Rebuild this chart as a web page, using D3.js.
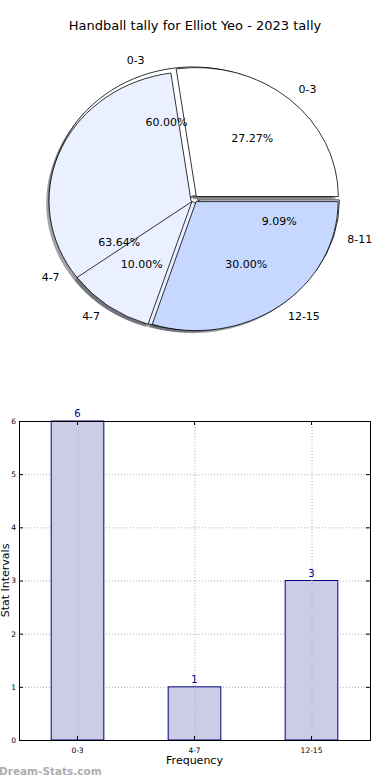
<!DOCTYPE html>
<html>
<head>
<meta charset="utf-8">
<script src="https://cdn.jsdelivr.net/npm/d3@7"></script>
<style>
  body { margin: 0; background: #fff; }
  svg { display: block; font-family: "DejaVu Sans", sans-serif; }
</style>
</head>
<body>
<div id="chart"></div>
<script>
// pie data (two pies drawn on the same axes)
const pie1Labels = ["0-3", "4-7", "8-11"];
const pie1Values = [3, 7, 1];
const pie2Labels = ["0-3", "4-7", "12-15"];
const pie2Values = [6, 1, 3];

// bar data
const barCategories = ["0-3", "4-7", "12-15"];
const barValues = [6, 1, 3];
const yTicks = [0, 1, 2, 3, 4, 5, 6];

const pie1Colors = ["#ffffff", "#eaf0ff", "#ffffff"];
const pie2Colors = ["#ffffff", "#eaf0ff", "#c6d8ff"];

const W = 390, H = 780;
const PIE = { cx: 194, cy: 199, rx: 142, ry: 129, explode: 0.025, shadow: 0.02 };
const BAR = { left: 19, right: 370, top: 421, bottom: 740 };

const svg = d3.select("#chart").append("svg")
    .attr("width", W)
    .attr("height", H);

svg.append("text")
    .attr("x", W / 2)
    .attr("y", 30)
    .attr("text-anchor", "middle")
    .attr("font-size", 13)
    .text("Handball tally for Elliot Yeo - 2023 tally");

// ---------- pie ----------
// matplotlib style: start at 3 o'clock, go counter clockwise
const pie = d3.pie().sort(null)
    .startAngle(Math.PI / 2)
    .endAngle(Math.PI / 2 - 2 * Math.PI);

const arc = d3.arc().innerRadius(0).outerRadius(1);

function buildWedges(labels, values, colors) {
    const total = d3.sum(values);
    return pie(values).map((d, i) => {
        const mid = (d.startAngle + d.endAngle) / 2;
        return {
            arc: d,
            label: labels[i],
            pct: (values[i] / total * 100).toFixed(2) + "%",
            color: colors[i],
            ox: PIE.explode * Math.sin(mid),
            oy: -PIE.explode * Math.cos(mid),
            sx: Math.sin(mid),
            sy: -Math.cos(mid)
        };
    });
}

const wedges1 = buildWedges(pie1Labels, pie1Values, pie1Colors);
const wedges2 = buildWedges(pie2Labels, pie2Values, pie2Colors);
// the big first wedge of the second pie ends up underneath the first pie
const drawOrder = [wedges2[0]].concat(wedges1, wedges2.slice(1));

const pieG = svg.append("g")
    .attr("transform", "translate(" + PIE.cx + "," + PIE.cy + ") scale(" + PIE.rx + "," + PIE.ry + ")");

// shadows first, under every wedge
pieG.selectAll("path.shadow")
    .data(drawOrder)
    .enter().append("path")
    .attr("class", "shadow")
    .attr("d", d => arc(d.arc))
    .attr("transform", d => "translate(" + (d.ox - PIE.shadow) + "," + (d.oy + PIE.shadow) + ")")
    .attr("fill", d => {
        const c = d3.rgb(d.color);
        return d3.rgb(c.r * 0.3, c.g * 0.3, c.b * 0.3);
    })
    .attr("fill-opacity", 0.5)
    .attr("stroke", "none");

pieG.selectAll("path.wedge")
    .data(drawOrder)
    .enter().append("path")
    .attr("class", "wedge")
    .attr("d", d => arc(d.arc))
    .attr("transform", d => "translate(" + d.ox + "," + d.oy + ")")
    .attr("fill", d => d.color)
    .attr("stroke", "#000")
    .attr("stroke-width", 0.8)
    .attr("vector-effect", "non-scaling-stroke");

const pieText = svg.append("g").attr("font-size", 11);

pieText.selectAll("text.cat")
    .data(drawOrder)
    .enter().append("text")
    .attr("x", d => PIE.cx + (d.ox + 1.1 * d.sx) * PIE.rx)
    .attr("y", d => PIE.cy + (d.oy + 1.1 * d.sy) * PIE.ry)
    .attr("text-anchor", d => d.sx > 0 ? "start" : "end")
    .attr("dominant-baseline", "central")
    .text(d => d.label);

pieText.selectAll("text.pct")
    .data(drawOrder)
    .enter().append("text")
    .attr("x", d => PIE.cx + (d.ox + 0.6 * d.sx) * PIE.rx)
    .attr("y", d => PIE.cy + (d.oy + 0.6 * d.sy) * PIE.ry)
    .attr("text-anchor", "middle")
    .attr("dominant-baseline", "central")
    .text(d => d.pct);

// ---------- bars ----------
const x = d3.scaleBand()
    .domain(barCategories)
    .range([BAR.left, BAR.right])
    .paddingInner(0.55)
    .paddingOuter(0.275);

const y = d3.scaleLinear()
    .domain([0, 6])
    .range([BAR.bottom, BAR.top]);

const grid = svg.append("g")
    .attr("stroke", "#b0b0b0")
    .attr("stroke-width", 1)
    .attr("stroke-dasharray", "1,2");

grid.selectAll("line.h")
    .data(yTicks.slice(1, -1))
    .enter().append("line")
    .attr("x1", BAR.left).attr("x2", BAR.right)
    .attr("y1", d => y(d) + 0.5).attr("y2", d => y(d) + 0.5);

svg.append("g").selectAll("rect")
    .data(barValues)
    .enter().append("rect")
    .attr("x", (d, i) => x(barCategories[i]))
    .attr("y", d => y(d))
    .attr("width", x.bandwidth())
    .attr("height", d => BAR.bottom - y(d))
    .attr("fill", "#cccce6")
    .attr("stroke", "#000080")
    .attr("stroke-width", 1);

// vertical grid sits on top of the bars
svg.append("g")
    .attr("stroke", "#b0b0b0")
    .attr("stroke-width", 1)
    .attr("stroke-dasharray", "1,2")
    .selectAll("line")
    .data(barCategories)
    .enter().append("line")
    .attr("x1", d => x(d) + x.bandwidth() / 2 + 0.5)
    .attr("x2", d => x(d) + x.bandwidth() / 2 + 0.5)
    .attr("y1", BAR.top).attr("y2", BAR.bottom);

svg.append("g").selectAll("text")
    .data(barValues)
    .enter().append("text")
    .attr("x", (d, i) => x(barCategories[i]) + x.bandwidth() / 2)
    .attr("y", d => y(d) - 4)
    .attr("text-anchor", "middle")
    .attr("font-size", 10)
    .attr("fill", "#00008b")
    .text(d => d);

// axes, matplotlib-like ticks pointing inwards
svg.append("g")
    .attr("transform", "translate(" + BAR.left + ",0)")
    .call(d3.axisLeft(y).tickValues(yTicks).tickFormat(d3.format("d")).tickSize(-4).tickPadding(3))
    .call(g => g.select(".domain").remove())
    .call(g => g.selectAll("text").attr("font-size", 7.5).attr("font-family", "DejaVu Sans"));

svg.append("g")
    .attr("transform", "translate(" + BAR.right + ",0)")
    .call(d3.axisRight(y).tickValues(yTicks).tickSize(-4).tickFormat(""))
    .call(g => g.select(".domain").remove());

svg.append("g")
    .attr("transform", "translate(0," + BAR.bottom + ")")
    .call(d3.axisBottom(x).tickSize(-4).tickPadding(8))
    .call(g => g.select(".domain").remove())
    .call(g => g.selectAll("text").attr("font-size", 7.5).attr("font-family", "DejaVu Sans"));

svg.append("g")
    .attr("transform", "translate(0," + BAR.top + ")")
    .call(d3.axisTop(x).tickSize(-4).tickFormat(""))
    .call(g => g.select(".domain").remove());

svg.append("rect")
    .attr("x", BAR.left + 0.5)
    .attr("y", BAR.top + 0.5)
    .attr("width", BAR.right - BAR.left)
    .attr("height", BAR.bottom - BAR.top)
    .attr("fill", "none")
    .attr("stroke", "#000")
    .attr("stroke-width", 1);

svg.append("text")
    .attr("x", (BAR.left + BAR.right) / 2)
    .attr("y", 764)
    .attr("text-anchor", "middle")
    .attr("font-size", 11)
    .text("Frequency");

svg.append("text")
    .attr("transform", "translate(9," + ((BAR.top + BAR.bottom) / 2) + ") rotate(-90)")
    .attr("text-anchor", "middle")
    .attr("font-size", 11)
    .text("Stat Intervals");

svg.append("text")
    .attr("x", -1)
    .attr("y", 775)
    .attr("font-size", 10.5)
    .attr("font-weight", "bold")
    .attr("fill", "#adadad")
    .text("Dream-Stats.com");
</script>
</body>
</html>
